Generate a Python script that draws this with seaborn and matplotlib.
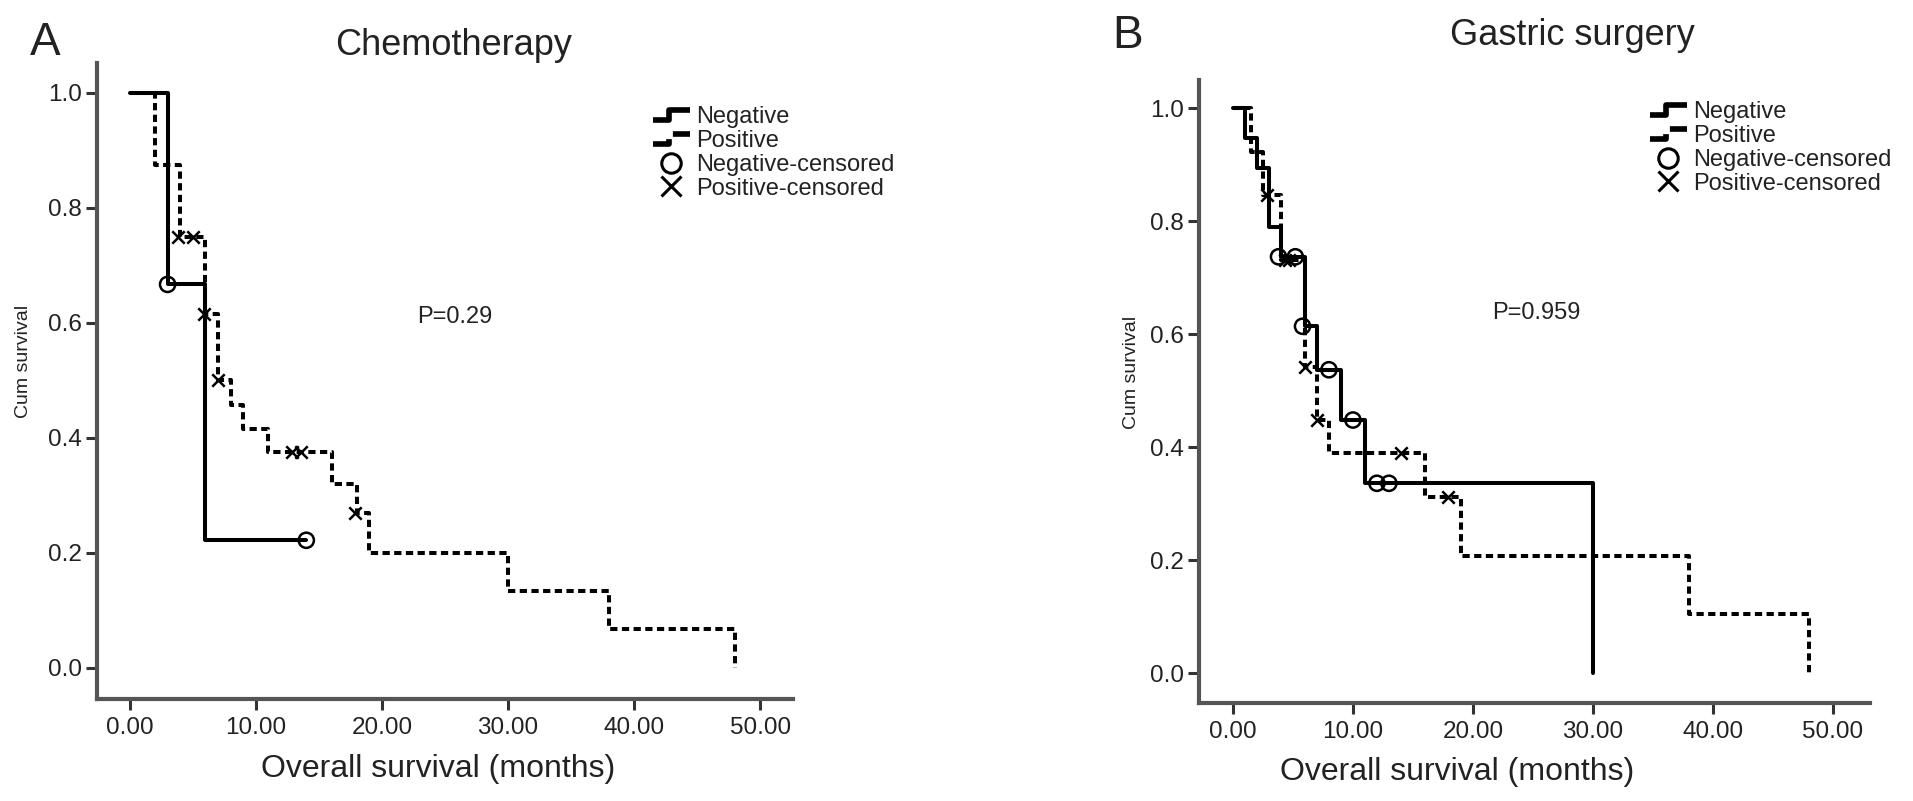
import numpy as np
import pandas as pd
import matplotlib
matplotlib.use("Agg")
import matplotlib.pyplot as plt
import seaborn as sns
from matplotlib.lines import Line2D
from matplotlib.legend_handler import HandlerBase

# Panel A - Chemotherapy (step curves)
a_neg_time = [0, 3, 6, 14]
a_neg_surv = [1.0, 0.667, 0.222, 0.222]
a_neg_cens_time = [3, 14]
a_neg_cens_surv = [0.667, 0.222]

a_pos_time = [0, 2, 4, 6, 7, 8, 9, 11, 16, 18, 19, 30, 38, 48]
a_pos_surv = [1.0, 0.875, 0.75, 0.615, 0.50, 0.457, 0.415, 0.375, 0.32, 0.27, 0.20, 0.133, 0.067, 0.0]
a_pos_cens_time = [3.8, 5.0, 5.9, 7.0, 12.9, 13.6, 17.9]
a_pos_cens_surv = [0.75, 0.75, 0.615, 0.50, 0.375, 0.375, 0.27]

# Panel B - Gastric surgery
b_neg_time = [0, 1, 2, 3, 4, 6, 7, 9, 11, 30]
b_neg_surv = [1.0, 0.947, 0.895, 0.789, 0.737, 0.614, 0.537, 0.448, 0.336, 0.0]
b_neg_cens_time = [3.8, 5.2, 5.8, 8.0, 10.0, 12.0, 13.0]
b_neg_cens_surv = [0.737, 0.737, 0.614, 0.537, 0.448, 0.336, 0.336]

b_pos_time = [0, 1.5, 2.5, 4, 6, 7, 8, 16, 19, 38, 48]
b_pos_surv = [1.0, 0.923, 0.846, 0.731, 0.542, 0.448, 0.389, 0.312, 0.208, 0.104, 0.0]
b_pos_cens_time = [2.8, 4.3, 4.7, 6.0, 7.0, 14.0, 17.9]
b_pos_cens_surv = [0.846, 0.731, 0.731, 0.542, 0.448, 0.389, 0.312]

x_ticks = [0, 10, 20, 30, 40, 50]
y_ticks = [0.0, 0.2, 0.4, 0.6, 0.8, 1.0]
legend_labels = ["Negative", "Positive", "Negative-censored", "Positive-censored"]

sns.set_style("ticks")
plt.rcParams['font.family'] = ['Liberation Sans', 'DejaVu Sans']

TXT = '#222222'
SPINE = '#555555'
LW = 2.9
DASH = (0, (1.8, 1.1))


class StepHandler(HandlerBase):
    # draws the little staircase glyph used by SPSS legends
    def create_artists(self, legend, orig_handle, xdescent, ydescent,
                       width, height, fontsize, trans):
        x0 = -xdescent
        lo = -ydescent + 0.2 * height
        hi = -ydescent + 0.8 * height
        xs = [x0, x0 + 0.45 * width, x0 + 0.45 * width, x0 + width]
        ys = [lo, lo, hi, hi]
        ln = Line2D(xs, ys, color=orig_handle.get_color(),
                    linestyle=orig_handle.get_linestyle(),
                    linewidth=orig_handle.get_linewidth() * 1.4,
                    solid_capstyle='butt', transform=trans)
        return [ln]


def km_panel(ax, neg_t, neg_s, neg_ct, neg_cs, pos_t, pos_s, pos_ct, pos_cs, xlim, ylim):
    neg = pd.DataFrame({'time': neg_t, 'surv': neg_s})
    pos = pd.DataFrame({'time': pos_t, 'surv': pos_s})
    sns.lineplot(data=pos, x='time', y='surv', ax=ax, color='black', lw=LW,
                 linestyle=DASH, drawstyle='steps-post', estimator=None, sort=False)
    sns.lineplot(data=neg, x='time', y='surv', ax=ax, color='black', lw=LW,
                 drawstyle='steps-post', estimator=None, sort=False)
    sns.scatterplot(x=neg_ct, y=neg_cs, ax=ax, marker='o', s=120,
                    facecolors='none', edgecolor='black', linewidth=1.8, zorder=5)
    sns.scatterplot(x=pos_ct, y=pos_cs, ax=ax, marker='x', s=80,
                    color='black', linewidth=1.8, zorder=5)

    ax.set_xlim(*xlim)
    ax.set_ylim(*ylim)
    ax.set_xticks(x_ticks)
    ax.set_xticklabels([f"{v:.2f}" for v in x_ticks])
    ax.set_yticks(y_ticks)
    ax.set_yticklabels([f"{v:.1f}" for v in y_ticks])
    sns.despine(ax=ax)
    for s in ['left', 'bottom']:
        ax.spines[s].set_color(SPINE)
        ax.spines[s].set_linewidth(3)
    ax.tick_params(axis='both', direction='out', length=8, width=2.2,
                   color='#333333', labelsize=17.5, labelcolor=TXT, pad=3)
    ax.tick_params(axis='x', pad=5)


fig = plt.figure(figsize=(19.13, 8.01), dpi=100)
W, H = 1913, 801

axA = fig.add_axes([97 / W, 1 - 699 / H, 696 / W, 636 / H])
km_panel(axA, a_neg_time, a_neg_surv, a_neg_cens_time, a_neg_cens_surv,
         a_pos_time, a_pos_surv, a_pos_cens_time, a_pos_cens_surv,
         (-2.6, 52.6), (-0.054, 1.052))

axB = fig.add_axes([1199 / W, 1 - 703 / H, 671 / W, 623 / H])
km_panel(axB, b_neg_time, b_neg_surv, b_neg_cens_time, b_neg_cens_surv,
         b_pos_time, b_pos_surv, b_pos_cens_time, b_pos_cens_surv,
         (-2.83, 53.1), (-0.053, 1.05))

# axis labels
for ax, xl_x, yl_x, yl_y in [(axA, 0.49, -0.105, 0.53), (axB, 0.384, -0.10, 0.53)]:
    ax.set_xlabel("Overall survival (months)", fontsize=23, color=TXT)
    ax.xaxis.set_label_coords(xl_x, -0.123)
    ax.xaxis.label.set_va('baseline')
    ax.set_ylabel("Cum survival", fontsize=14, color=TXT, va='center')
    ax.yaxis.set_label_coords(yl_x, yl_y)

# p values
axA.text(22.8, 0.61, "P=0.29", fontsize=17, color=TXT, ha='left', va='center')
axB.text(21.6, 0.637, "P=0.959", fontsize=17, color=TXT, ha='left', va='center')

# titles and panel letters
fig.text(30 / W, 1 - 55 / H, "A", fontsize=33, color=TXT, ha='left', va='baseline')
fig.text(335 / W, 1 - 55 / H, "Chemotherapy", fontsize=26, color=TXT, ha='left', va='baseline')
fig.text(1112 / W, 1 - 48 / H, "B", fontsize=33, color=TXT, ha='left', va='baseline')
fig.text(1695 / W, 1 - 45 / H, "Gastric surgery", fontsize=26, color=TXT, ha='right', va='baseline')

# legends
for ax, lx, ly in [(axA, 653, 106), (axB, 1650, 101)]:
    h_neg = Line2D([], [], color='black', lw=LW)
    h_pos = Line2D([], [], color='black', lw=LW, linestyle=(0, (1.0, 0.8)))
    h_nc = Line2D([], [], marker='o', linestyle='none', markerfacecolor='none',
                  markeredgecolor='black', markersize=14, markeredgewidth=2.2)
    h_pc = Line2D([], [], marker='x', linestyle='none', color='black',
                  markersize=15, markeredgewidth=2.2)
    leg = ax.legend([h_neg, h_pos, h_nc, h_pc], legend_labels,
                    handler_map={h_neg: StepHandler(), h_pos: StepHandler()},
                    loc='upper left', bbox_to_anchor=(lx / W, 1 - ly / H),
                    bbox_transform=fig.transFigure, frameon=False, fontsize=17,
                    handlelength=1.55, handletextpad=0.28, labelspacing=0.08,
                    borderpad=0, borderaxespad=0)
    for t in leg.get_texts():
        t.set_color(TXT)

fig.savefig("out.png", dpi=100)
